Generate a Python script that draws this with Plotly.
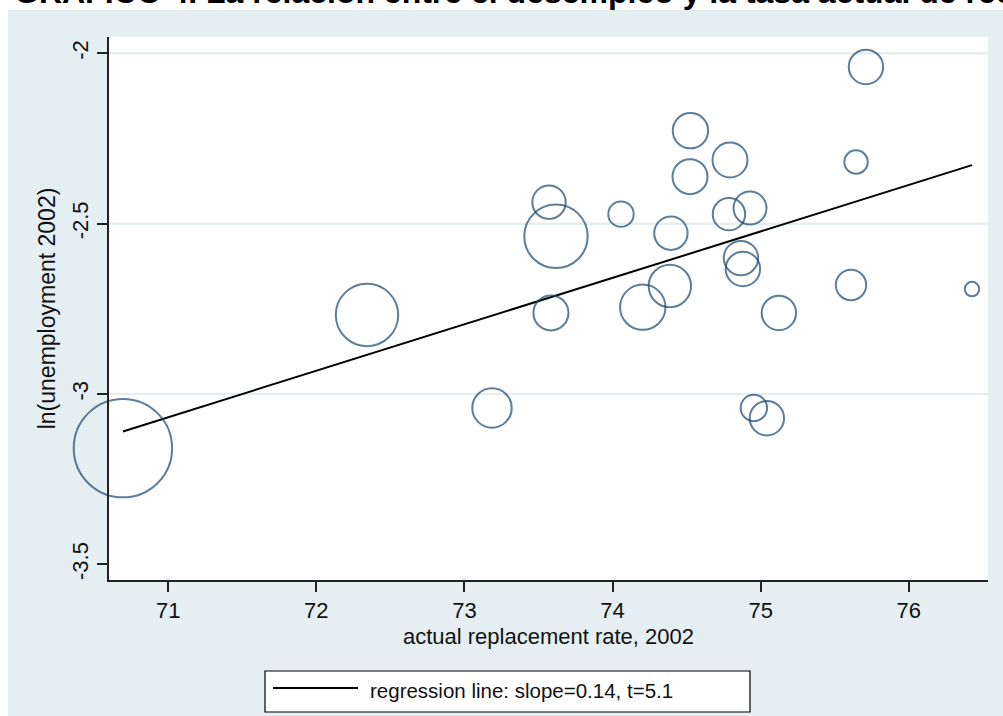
import plotly.graph_objects as go
import numpy as np

# ---- data ----
replacement_rate = [70.694, 72.342, 73.186, 73.571, 73.618, 73.584, 74.057, 74.394,
                    74.526, 74.523, 74.793, 74.786, 74.928, 74.387, 74.204, 74.867,
                    74.880, 75.123, 74.954, 75.042, 75.711, 75.644, 75.610, 76.427]
ln_unemployment = [-3.159, -2.768, -3.041, -2.437, -2.537, -2.762, -2.472, -2.528,
                   -2.227, -2.362, -2.313, -2.472, -2.454, -2.683, -2.745, -2.601,
                   -2.633, -2.762, -3.041, -3.071, -2.040, -2.319, -2.680, -2.692]
weight = [24.2, 9.73, 3.88, 2.79, 10.05, 3.06, 1.61, 2.79,
          3.13, 3.06, 3.06, 2.62, 2.72, 4.49, 5.15, 2.96,
          2.96, 2.96, 1.74, 2.96, 2.96, 1.37, 2.31, 0.52]

reg_slope = 0.13635
reg_intercept = -12.749

x_ticks = [71, 72, 73, 74, 75, 76]
y_ticks = [-3.5, -3, -2.5, -2]
y_ticklabels = ["-3.5", "-3", "-2.5", "-2"]

title_text = "GRÁFICO 4. La relación entre el desempleo y la tasa actual de reemplazo"
x_title = "actual replacement rate, 2002"
y_title = "ln(unemployment 2002)"
legend_text = "regression line: slope=0.14, t=5.1"

FONT = "Liberation Sans, Arial, Helvetica, sans-serif"
BG = "#e5eef1"
NAVY = "#1a476f"

fig = go.Figure()

# regression line over the range of the data
xr = np.array([min(replacement_rate), max(replacement_rate)])
fig.add_trace(go.Scatter(
    x=xr, y=reg_intercept + reg_slope * xr, mode="lines",
    line=dict(color="black", width=2), showlegend=False, hoverinfo="skip",
    name=legend_text))

fig.add_trace(go.Scatter(
    x=replacement_rate, y=ln_unemployment, mode="markers",
    marker=dict(size=weight, sizemode="area", sizeref=0.005,
                color="rgba(0,0,0,0)", line=dict(color=NAVY, width=2)),
    cliponaxis=False, showlegend=False, name="countries"))

shapes = []
# white strips outside the graph region
shapes.append(dict(type="rect", xref="paper", yref="paper", x0=-0.2, x1=1.1,
                   y0=(580 - 10) / 543, y1=1.2, fillcolor="white",
                   line=dict(width=0), layer="below"))
shapes.append(dict(type="rect", xref="paper", yref="paper", x0=-0.2, x1=(8 - 109) / 879,
                   y0=-0.3, y1=1.2, fillcolor="white", line=dict(width=0), layer="below"))
# grid lines at interior ticks
for yv in y_ticks[1:]:
    shapes.append(dict(type="line", xref="paper", yref="y", x0=0, x1=1, y0=yv, y1=yv,
                       line=dict(color=BG, width=2.5), layer="below"))
# legend box
shapes.append(dict(type="rect", xref="paper", yref="paper",
                   x0=(265 - 109) / 879, x1=(750 - 109) / 879,
                   y0=(580 - 712) / 543, y1=(580 - 671) / 543,
                   fillcolor="white", line=dict(color="black", width=1.2)))
shapes.append(dict(type="line", xref="paper", yref="paper",
                   x0=(273 - 109) / 879, x1=(358 - 109) / 879,
                   y0=(580 - 688) / 543, y1=(580 - 688) / 543,
                   line=dict(color="black", width=2.2)))

annotations = [
    dict(text=f"<b>{title_text}</b>", xref="paper", yref="paper",
         x=(12 - 109) / 879, y=(580 + 8) / 543, xanchor="left", yanchor="middle",
         showarrow=False, font=dict(family=FONT, size=32, color="black")),
    dict(text=legend_text, xref="paper", yref="paper",
         x=(368 - 109) / 879, y=(580 - 690) / 543, xanchor="left", yanchor="middle",
         showarrow=False, font=dict(family=FONT, size=20.5, color="#111")),
]

fig.update_layout(
    width=1003, height=716,
    margin=dict(l=109, r=15, t=37, b=136, pad=0),
    paper_bgcolor=BG, plot_bgcolor="white",
    font=dict(family=FONT, size=22, color="#111"),
    shapes=shapes, annotations=annotations,
    showlegend=False,
    xaxis=dict(range=[70.600, 76.535], tickvals=x_ticks, ticks="outside", ticklen=10,
               tickwidth=1.5, tickcolor="#222", showline=True, linecolor="#222",
               linewidth=1.5, showgrid=False, zeroline=False,
               tickfont=dict(size=22, color="#111"),
               title=dict(text=x_title, standoff=6, font=dict(size=22, color="#111")),
               automargin=False),
    yaxis=dict(range=[-3.546, -1.952], tickvals=y_ticks, ticktext=y_ticklabels,
               tickangle=-90, ticks="outside", ticklen=10, tickwidth=1.5,
               tickcolor="#222", showline=True, linecolor="#222", linewidth=1.5,
               showgrid=False, zeroline=False,
               tickfont=dict(size=22, color="#111"),
               title=dict(text=y_title, standoff=6, font=dict(size=23, color="#111")),
               automargin=False),
)

fig.write_html("out.html", config={"displayModeBar": False},
               post_script="document.body.style.margin='0';document.body.style.overflow='hidden';")
